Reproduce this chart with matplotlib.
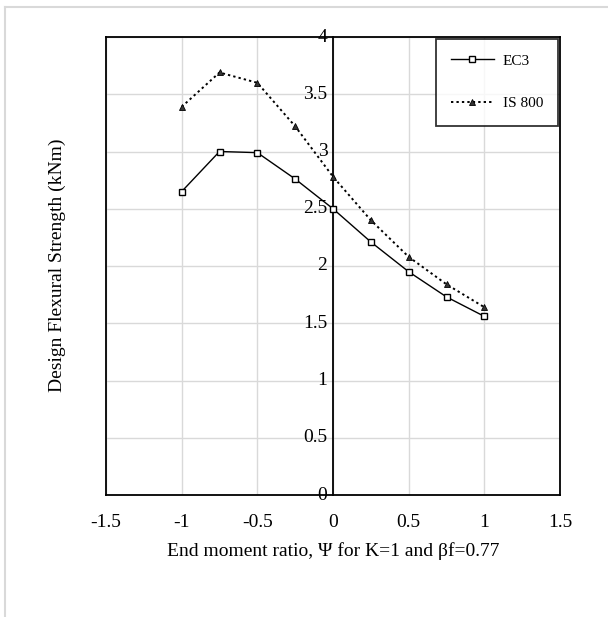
import matplotlib.pyplot as plt
from matplotlib.lines import Line2D

# end moment ratio values
psi = [-1, -0.75, -0.5, -0.25, 0, 0.25, 0.5, 0.75, 1]
ec3 = [2.65, 3.00, 2.99, 2.76, 2.50, 2.21, 1.95, 1.73, 1.56]
is800 = [3.39, 3.69, 3.60, 3.22, 2.78, 2.40, 2.08, 1.84, 1.64]

xticks = [-1.5, -1, -0.5, 0, 0.5, 1, 1.5]
xtick_labels = ["-1.5", "-1", "-0.5", "0", "0.5", "1", "1.5"]
yticks = [0, 0.5, 1, 1.5, 2, 2.5, 3, 3.5, 4]
ytick_labels = ["0", "0.5", "1", "1.5", "2", "2.5", "3", "3.5", "4"]

plt.rcParams['font.family'] = ['Liberation Serif', 'DejaVu Serif']

fig = plt.figure(figsize=(6.08, 6.17), dpi=100)
ax = fig.add_axes([106/608, 1 - 495/617, 454/608, 458/617])

ax.plot(psi, ec3, color="black", lw=1.0, marker="s", ms=5,
        mfc="white", mec="black", mew=1.0, label="EC3", zorder=3)
ax.plot(psi, is800, color="black", lw=1.4, ls=(0, (1.2, 1.6)), marker="^",
        ms=5, mfc="#333333", mec="black", mew=0.6, label="IS 800", zorder=3)

ax.set_xlim(-1.5, 1.5)
ax.set_ylim(0, 4)
ax.set_xticks(xticks)
ax.set_xticklabels(xtick_labels)
ax.set_yticks(yticks)
ax.set_yticklabels(ytick_labels)
ax.grid(True, color="#d9d9d9", lw=1.0)
ax.set_axisbelow(True)

# y axis crosses at x = 0 like the spreadsheet chart
ax.spines['left'].set_position(('data', 0))
ax.spines['left'].set_linewidth(1.3)
for s in ['top', 'right', 'bottom']:
    ax.spines[s].set_linewidth(1.3)
ax.plot([-1.5, -1.5], [0, 4], color="black", lw=1.3, clip_on=False)

ax.tick_params(axis='both', length=0, labelsize=14)
ax.tick_params(axis='x', pad=14)
ax.tick_params(axis='y', pad=4)
for lbl in ax.get_yticklabels():
    lbl.set_verticalalignment('center')

ax.set_xlabel("End moment ratio, \u03a8 for K=1 and \u03b2f=0.77",
              fontsize=14, labelpad=8)
fig.text(57/608, 1 - 265/617, "Design Flexural Strength (kNm)",
         rotation=90, ha="center", va="center", fontsize=14)

leg = ax.legend(loc="upper right", bbox_to_anchor=(1.0, 1.0), frameon=True,
                fancybox=False, edgecolor="black", fontsize=11,
                borderpad=1.0, labelspacing=1.9, handlelength=2.8,
                handletextpad=0.6, borderaxespad=0.1)
leg.get_frame().set_linewidth(1.3)

# light outer chart border
fig.add_artist(Line2D([5/608, 5/608], [0, 1 - 7/617], color="#d9d9d9",
                      lw=1.5, transform=fig.transFigure))
fig.add_artist(Line2D([5/608, 1], [1 - 7/617, 1 - 7/617], color="#d9d9d9",
                      lw=1.5, transform=fig.transFigure))

fig.savefig("out.png", dpi=100)
